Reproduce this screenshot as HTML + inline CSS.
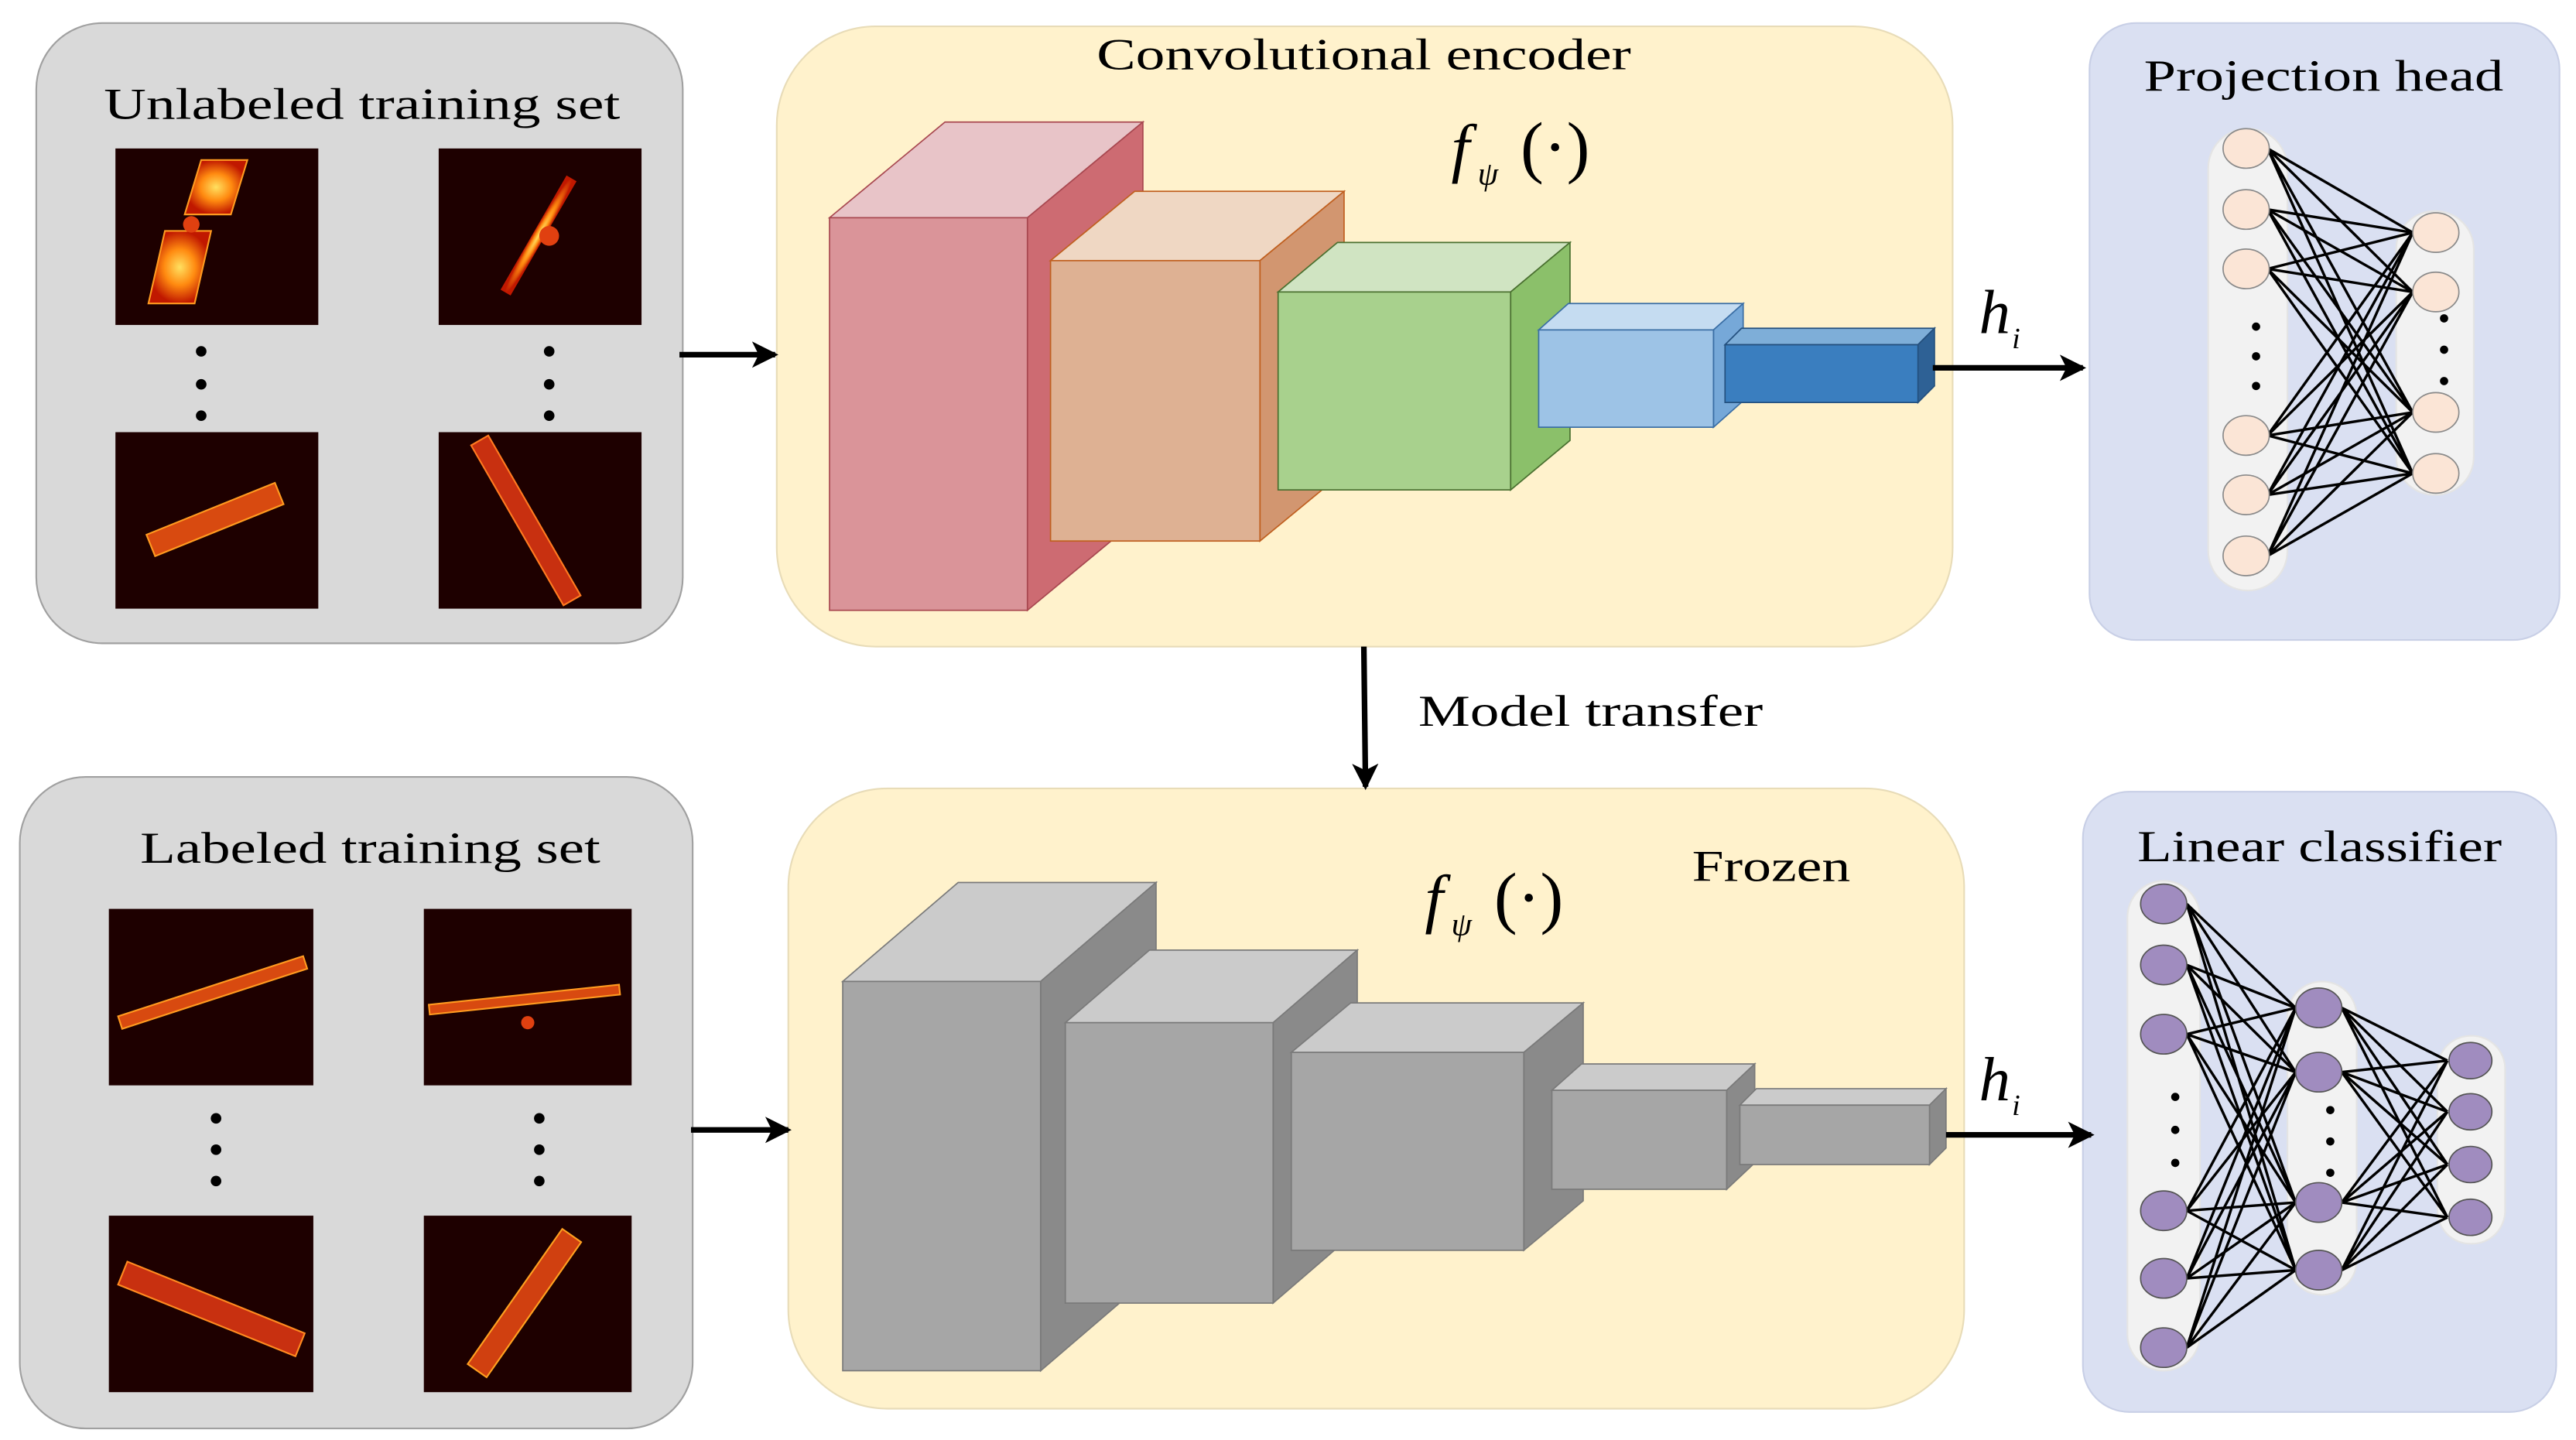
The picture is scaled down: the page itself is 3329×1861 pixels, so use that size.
<!DOCTYPE html>
<html><head><meta charset="utf-8"><style>
html,body{margin:0;padding:0;background:#fff}
svg{display:block}
text{font-family:"Liberation Serif",serif}
</style></head><body>
<svg width="3329" height="1861" viewBox="0 0 1562 873" preserveAspectRatio="none" xmlns="http://www.w3.org/2000/svg">
<defs>
<marker id="ah" markerWidth="16" markerHeight="16" refX="14" refY="8" orient="auto" markerUnits="userSpaceOnUse" viewBox="0 0 16 16">
<path d="M0,0 L16,8 L0,16 L4,8 z" fill="#000"/></marker>
<radialGradient id="glow"><stop offset="0" stop-color="#ffe060"/><stop offset="0.5" stop-color="#ff8a10"/><stop offset="1" stop-color="#c01800"/></radialGradient>
</defs>

<rect x="22" y="14" width="392" height="376" rx="40" fill="#d9d9d9" stroke="#a0a0a0" stroke-width="1"/>
<rect x="471" y="16" width="713" height="376" rx="60" fill="#fff2cc" stroke="#e8dcb8" stroke-width="1"/>
<rect x="1267" y="14" width="285" height="374" rx="28" fill="#dae0f2" stroke="#c8cfe6" stroke-width="1"/>
<rect x="12" y="471" width="408" height="395" rx="40" fill="#d9d9d9" stroke="#a0a0a0" stroke-width="1"/>
<rect x="478" y="478" width="713" height="376" rx="60" fill="#fff2cc" stroke="#e8dcb8" stroke-width="1"/>
<rect x="1263" y="480" width="287" height="376" rx="28" fill="#dae0f2" stroke="#c8cfe6" stroke-width="1"/>

<g font-size="27">
<text x="63" y="72" textLength="313" lengthAdjust="spacingAndGlyphs">Unlabeled training set</text>
<text x="665" y="42" textLength="324" lengthAdjust="spacingAndGlyphs">Convolutional encoder</text>
<text x="1300" y="55" textLength="218" lengthAdjust="spacingAndGlyphs">Projection head</text>
<text x="85" y="523" textLength="279" lengthAdjust="spacingAndGlyphs">Labeled training set</text>
<text x="1026" y="534" textLength="96" lengthAdjust="spacingAndGlyphs">Frozen</text>
<text x="1296" y="522" textLength="221" lengthAdjust="spacingAndGlyphs">Linear classifier</text>
<text x="860" y="440" textLength="209" lengthAdjust="spacingAndGlyphs">Model transfer</text>
</g>

<text x="880" y="103" font-size="40" font-style="italic">f</text><text x="896" y="112" font-size="20" font-style="italic">ψ</text><text x="922" y="103" font-size="42">(·)</text>
<text x="864" y="558" font-size="40" font-style="italic">f</text><text x="880" y="567" font-size="20" font-style="italic">ψ</text><text x="906" y="558" font-size="42">(·)</text>

<text x="1200" y="202" font-size="38" font-style="italic">h</text><text x="1220" y="211" font-size="18" font-style="italic">i</text>
<text x="1200" y="667" font-size="38" font-style="italic">h</text><text x="1220" y="676" font-size="18" font-style="italic">i</text>

<g>
<rect x="70" y="90" width="123" height="107" fill="#1e0000"/>
<polygon points="122,97 150,97 140,130 112,130" fill="url(#glow)" stroke="#ff9a20"/>
<polygon points="100,140 128,140 118,184 90,184" fill="url(#glow)" stroke="#ff9a20"/>
<circle cx="116" cy="136" r="5" fill="#e04010"/>
<rect x="266" y="90" width="123" height="107" fill="#1e0000"/>
<g transform="rotate(-60 327 143)"><rect x="287" y="139" width="80" height="7" fill="url(#glow)"/></g>
<circle cx="333" cy="143" r="6" fill="#e04010"/>
<rect x="70" y="262" width="123" height="107" fill="#1e0000"/>
<g transform="rotate(-22 130 314)"><rect x="88" y="308" width="84" height="14" fill="#d84a10" stroke="#ff9a20"/></g>
<rect x="266" y="262" width="123" height="107" fill="#1e0000"/>
<g transform="rotate(60 318 316)"><rect x="262" y="309" width="112" height="12" fill="#c83010" stroke="#ff7a20"/></g>
</g>
<g>
<rect x="66" y="551" width="124" height="107" fill="#1e0000"/>
<g transform="rotate(-18 128 602)"><rect x="70" y="598" width="118" height="8" fill="#d84a10" stroke="#ff9a20"/></g>
<rect x="257" y="551" width="126" height="107" fill="#1e0000"/>
<g transform="rotate(-6 318 606)"><rect x="260" y="603" width="116" height="6" fill="#d84a10" stroke="#ff9a20"/></g>
<circle cx="320" cy="620" r="4" fill="#e04010"/>
<rect x="66" y="737" width="124" height="107" fill="#1e0000"/>
<g transform="rotate(22 128 794)"><rect x="70" y="786" width="116" height="15" fill="#c83010" stroke="#ff8a20"/></g>
<rect x="257" y="737" width="126" height="107" fill="#1e0000"/>
<g transform="rotate(-55 318 790)"><rect x="268" y="783" width="100" height="14" fill="#d04010" stroke="#ffa020"/></g>
</g>

<g fill="#000">
<circle cx="122" cy="213" r="3.2"/><circle cx="122" cy="233" r="3.2"/><circle cx="122" cy="252" r="3.2"/>
<circle cx="333" cy="213" r="3.2"/><circle cx="333" cy="233" r="3.2"/><circle cx="333" cy="252" r="3.2"/>
<circle cx="131" cy="678" r="3.2"/><circle cx="131" cy="697" r="3.2"/><circle cx="131" cy="716" r="3.2"/>
<circle cx="327" cy="678" r="3.2"/><circle cx="327" cy="697" r="3.2"/><circle cx="327" cy="716" r="3.2"/>
</g>

<g stroke-width="0.8">
<g stroke="#a84850">
<polygon points="503,132 573,74 693,74 623,132" fill="#e8c4c8"/>
<polygon points="623,132 693,74 693,312 623,370" fill="#cd6b72"/>
<rect x="503" y="132" width="120" height="238" fill="#da9499"/>
</g>
<g stroke="#c06020">
<polygon points="637,158 688,116 815,116 764,158" fill="#efd7c3"/>
<polygon points="764,158 815,116 815,286 764,328" fill="#d29670"/>
<rect x="637" y="158" width="127" height="170" fill="#deb193"/>
</g>
<g stroke="#4a7030">
<polygon points="775,177 811,147 952,147 916,177" fill="#d0e4c2"/>
<polygon points="916,177 952,147 952,267 916,297" fill="#8bc06a"/>
<rect x="775" y="177" width="141" height="120" fill="#a8d18d"/>
</g>
<g stroke="#3a6ea5">
<polygon points="933,200 951,184 1057,184 1039,200" fill="#c5dcf1"/>
<polygon points="1039,200 1057,184 1057,243 1039,259" fill="#76a8d8"/>
<rect x="933" y="200" width="106" height="59" fill="#9dc3e6"/>
</g>
<g stroke="#24507e">
<polygon points="1046,209 1056,199 1173,199 1163,209" fill="#7eaed8"/>
<polygon points="1163,209 1173,199 1173,234 1163,244" fill="#2e6195"/>
<rect x="1046" y="209" width="117" height="35" fill="#3a7ebf"/>
</g>
</g>

<g stroke="#7a7a7a" stroke-width="0.8">
<polygon points="511,595 581,535 701,535 631,595" fill="#cbcbcb"/>
<polygon points="631,595 701,535 701,771 631,831" fill="#8a8a8a"/>
<rect x="511" y="595" width="120" height="236" fill="#a6a6a6"/>
<polygon points="646,620 697,576 823,576 772,620" fill="#cbcbcb"/>
<polygon points="772,620 823,576 823,746 772,790" fill="#8a8a8a"/>
<rect x="646" y="620" width="126" height="170" fill="#a6a6a6"/>
<polygon points="783,638 819,608 960,608 924,638" fill="#cbcbcb"/>
<polygon points="924,638 960,608 960,728 924,758" fill="#8a8a8a"/>
<rect x="783" y="638" width="141" height="120" fill="#a6a6a6"/>
<polygon points="941,661 959,645 1064,645 1047,661" fill="#cbcbcb"/>
<polygon points="1047,661 1064,645 1064,705 1047,721" fill="#8a8a8a"/>
<rect x="941" y="661" width="106" height="60" fill="#a6a6a6"/>
<polygon points="1055,670 1065,660 1180,660 1170,670" fill="#cbcbcb"/>
<polygon points="1170,670 1180,660 1180,696 1170,706" fill="#8a8a8a"/>
<rect x="1055" y="670" width="115" height="36" fill="#a6a6a6"/>
</g>

<g stroke="#000" stroke-width="3.4" fill="none" marker-end="url(#ah)">
<line x1="412" y1="215" x2="470" y2="215"/>
<line x1="1172" y1="223" x2="1263" y2="223"/>
<line x1="827" y1="392" x2="828" y2="477"/>
<line x1="419" y1="685" x2="478" y2="685"/>
<line x1="1180" y1="688" x2="1268" y2="688"/>
</g>

<rect x="1339" y="78" width="48" height="280" rx="24" fill="#f2f2f2" stroke="#e4e4e4"/>
<rect x="1453" y="128" width="47" height="172" rx="23" fill="#f2f2f2" stroke="#e4e4e4"/>
<path stroke="#000" stroke-width="1.6" fill="none" d="
M1375 90L1463 141M1375 90L1463 177M1375 90L1463 250M1375 90L1463 287
M1375 127L1463 141M1375 127L1463 177M1375 127L1463 250M1375 127L1463 287
M1375 163L1463 141M1375 163L1463 177M1375 163L1463 250M1375 163L1463 287
M1375 264L1463 141M1375 264L1463 177M1375 264L1463 250M1375 264L1463 287
M1375 300L1463 141M1375 300L1463 177M1375 300L1463 250M1375 300L1463 287
M1375 337L1463 141M1375 337L1463 177M1375 337L1463 250M1375 337L1463 287"/>
<g fill="#fbe5d6" stroke="#8a8a8a" stroke-width="0.8">
<ellipse cx="1362" cy="90" rx="14" ry="12"/><ellipse cx="1362" cy="127" rx="14" ry="12"/><ellipse cx="1362" cy="163" rx="14" ry="12"/>
<ellipse cx="1362" cy="264" rx="14" ry="12"/><ellipse cx="1362" cy="300" rx="14" ry="12"/><ellipse cx="1362" cy="337" rx="14" ry="12"/>
<ellipse cx="1477" cy="141" rx="14" ry="12"/><ellipse cx="1477" cy="177" rx="14" ry="12"/><ellipse cx="1477" cy="250" rx="14" ry="12"/><ellipse cx="1477" cy="287" rx="14" ry="12"/>
</g>
<g fill="#000"><circle cx="1368" cy="198" r="2.5"/><circle cx="1368" cy="216" r="2.5"/><circle cx="1368" cy="234" r="2.5"/>
<circle cx="1482" cy="193" r="2.5"/><circle cx="1482" cy="212" r="2.5"/><circle cx="1482" cy="231" r="2.5"/></g>

<rect x="1290" y="534" width="44" height="297" rx="22" fill="#f2f2f2" stroke="#e4e4e4"/>
<rect x="1387" y="595" width="42" height="190" rx="21" fill="#f2f2f2" stroke="#e4e4e4"/>
<rect x="1478" y="628" width="41" height="126" rx="20" fill="#f2f2f2" stroke="#e4e4e4"/>
<path stroke="#000" stroke-width="1.6" fill="none" d="
M1326 548L1392 611M1326 548L1392 650M1326 548L1392 729M1326 548L1392 770
M1326 585L1392 611M1326 585L1392 650M1326 585L1392 729M1326 585L1392 770
M1326 627L1392 611M1326 627L1392 650M1326 627L1392 729M1326 627L1392 770
M1326 734L1392 611M1326 734L1392 650M1326 734L1392 729M1326 734L1392 770
M1326 775L1392 611M1326 775L1392 650M1326 775L1392 729M1326 775L1392 770
M1326 817L1392 611M1326 817L1392 650M1326 817L1392 729M1326 817L1392 770
M1420 611L1484 643M1420 611L1484 674M1420 611L1484 706M1420 611L1484 738
M1420 650L1484 643M1420 650L1484 674M1420 650L1484 706M1420 650L1484 738
M1420 729L1484 643M1420 729L1484 674M1420 729L1484 706M1420 729L1484 738
M1420 770L1484 643M1420 770L1484 674M1420 770L1484 706M1420 770L1484 738"/>
<g fill="#a08cbf" stroke="#555" stroke-width="0.8">
<ellipse cx="1312" cy="548" rx="14" ry="12"/><ellipse cx="1312" cy="585" rx="14" ry="12"/><ellipse cx="1312" cy="627" rx="14" ry="12"/>
<ellipse cx="1312" cy="734" rx="14" ry="12"/><ellipse cx="1312" cy="775" rx="14" ry="12"/><ellipse cx="1312" cy="817" rx="14" ry="12"/>
<ellipse cx="1406" cy="611" rx="14" ry="12"/><ellipse cx="1406" cy="650" rx="14" ry="12"/><ellipse cx="1406" cy="729" rx="14" ry="12"/><ellipse cx="1406" cy="770" rx="14" ry="12"/>
<ellipse cx="1498" cy="643" rx="13" ry="11"/><ellipse cx="1498" cy="674" rx="13" ry="11"/><ellipse cx="1498" cy="706" rx="13" ry="11"/><ellipse cx="1498" cy="738" rx="13" ry="11"/>
</g>
<g fill="#000"><circle cx="1319" cy="665" r="2.5"/><circle cx="1319" cy="685" r="2.5"/><circle cx="1319" cy="705" r="2.5"/>
<circle cx="1413" cy="673" r="2.5"/><circle cx="1413" cy="692" r="2.5"/><circle cx="1413" cy="711" r="2.5"/></g>
</svg>
</body></html>
